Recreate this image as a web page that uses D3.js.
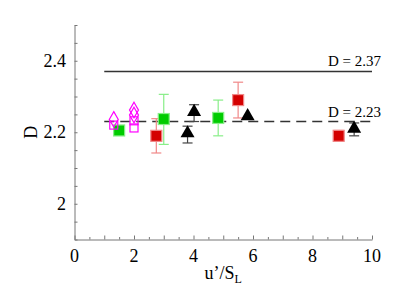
<!DOCTYPE html>
<html>
<head>
<meta charset="utf-8">
<script src="https://cdn.jsdelivr.net/npm/d3@7"></script>
<style>
  body { margin: 0; background: #fff; }
  text { font-family: "Liberation Serif", "Times New Roman", serif; }
</style>
</head>
<body>
<script>
// data
var xTicks = [0, 2, 4, 6, 8, 10]
var yTicks = [2, 2.2, 2.4]

var redX = [2.75, 5.5, 8.88]
var redY = [2.19, 2.29, 2.19]
var redLo = [2.142, 2.24, 2.175]
var redHi = [2.238, 2.34, 2.205]

var greenX = [1.5, 3.0, 4.83]
var greenY = [2.205, 2.237, 2.24]
var greenLo = [null, 2.166, 2.19]
var greenHi = [null, 2.306, 2.29]

var triX = [3.8, 4.02, 5.82, 9.4]
var triY = [2.197, 2.257, 2.245, 2.21]
var triLo = [2.17, 2.23, null, 2.19]
var triHi = [2.217, 2.277, null, 2.226]

var magSqX = [1.32, 2.0, 2.0]
var magSqY = [2.22, 2.212, 2.232]
var magDiX = [1.32, 2.0, 2.0]
var magDiY = [2.236, 2.248, 2.262]

var refLines = [
  {label: "D = 2.37", value: 2.37, x0: 1, x1: 10, dash: null},
  {label: "D = 2.23", value: 2.23, x0: 1, x1: 10, dash: "10,6"}
]

var W = 399, H = 286
var svg = d3.select("body").append("svg")
  .attr("width", W)
  .attr("height", H)

var x = d3.scaleLinear().domain([0, 10]).range([74.5, 372])
var y = d3.scaleLinear().domain([1.9, 2.5]).range([239.5, 25])

// axes (ticks point inward)
var axisCol = "#777"
var gx = svg.append("g").attr("transform", "translate(0," + y(1.9) + ")")
gx.call(d3.axisBottom(x).tickValues(d3.range(0, 10.01, 0.5)).tickSizeInner(-3).tickSizeOuter(0).tickFormat(""))
gx.selectAll(".tick line").attr("y2", function(d) { return Math.abs(d % 1) < 1e-6 ? -4 : -2.5 })
gx.selectAll("line, path").attr("stroke", axisCol)
xTicks.forEach(function(t) {
  svg.append("text")
    .attr("x", x(t)).attr("y", 262)
    .attr("text-anchor", "middle")
    .style("font-size", "18px")
    .text(t)
})

var gy = svg.append("g").attr("transform", "translate(" + x(0) + ",0)")
gy.call(d3.axisLeft(y).tickValues(d3.range(1.9, 2.501, 0.05)).tickSizeInner(-3).tickSizeOuter(0).tickFormat(""))
gy.selectAll("line, path").attr("stroke", axisCol)
yTicks.forEach(function(t) {
  svg.append("text")
    .attr("x", 66).attr("y", y(t) + 6)
    .attr("text-anchor", "end")
    .style("font-size", "18px")
    .text(t)
})

// axis labels
svg.append("g")
  .attr("transform", "translate(37," + y(2.2) + ")")
  .append("text")
  .attr("transform", "rotate(-90)")
  .attr("text-anchor", "middle")
  .style("font-size", "18px")
  .text("D")

var xl = svg.append("text")
  .attr("x", x(5)).attr("y", 279)
  .attr("text-anchor", "middle")
  .style("font-size", "18px")
xl.append("tspan").text("u\u2019/S")
xl.append("tspan").attr("dy", 4).style("font-size", "12px").text("L")

// reference lines
refLines.forEach(function(r) {
  svg.append("line")
    .attr("x1", x(r.x0)).attr("x2", x(r.x1))
    .attr("y1", y(r.value)).attr("y2", y(r.value))
    .attr("stroke", "#333")
    .attr("stroke-width", 1.6)
    .attr("stroke-dasharray", r.dash)
  svg.append("text")
    .attr("x", 381).attr("y", y(r.value) - 5)
    .attr("text-anchor", "end")
    .style("font-size", "15px")
    .text(r.label)
})

// error bars
function errBars(xs, lo, hi, col) {
  xs.forEach(function(xv, i) {
    if (lo[i] == null) return
    var g = svg.append("g").attr("stroke", col).attr("stroke-width", 1.2)
    g.append("line").attr("x1", x(xv)).attr("x2", x(xv)).attr("y1", y(lo[i])).attr("y2", y(hi[i]))
    g.append("line").attr("x1", x(xv) - 5).attr("x2", x(xv) + 5).attr("y1", y(lo[i])).attr("y2", y(lo[i]))
    g.append("line").attr("x1", x(xv) - 5).attr("x2", x(xv) + 5).attr("y1", y(hi[i])).attr("y2", y(hi[i]))
  })
}
errBars(redX, redLo, redHi, "#f08888")
errBars(greenX, greenLo, greenHi, "#88ee88")
errBars(triX, triLo, triHi, "#444")

// markers
function squares(xs, ys, size, fill, stroke) {
  svg.selectAll(null)
    .data(xs.map(function(d, i) { return [d, ys[i]] }))
    .enter().append("rect")
    .attr("x", function(d) { return x(d[0]) - size / 2 })
    .attr("y", function(d) { return y(d[1]) - size / 2 })
    .attr("width", size).attr("height", size)
    .attr("fill", fill)
    .attr("stroke", stroke)
    .attr("stroke-width", 1.2)
}
squares(redX, redY, 11, "#d40000", "#f08888")
squares(greenX, greenY, 11, "#00cc00", "#88ee88")

svg.selectAll(null)
  .data(triX.map(function(d, i) { return [d, triY[i]] }))
  .enter().append("path")
  .attr("transform", function(d) { return "translate(" + x(d[0]) + "," + y(d[1]) + ")" })
  .attr("d", d3.symbol().type(d3.symbolTriangle).size(85))
  .attr("fill", "#000")

squares(magSqX, magSqY, 8, "none", "#ff00ff")
svg.selectAll(null)
  .data(magDiX.map(function(d, i) { return [d, magDiY[i]] }))
  .enter().append("path")
  .attr("transform", function(d) { return "translate(" + x(d[0]) + "," + y(d[1]) + ")" })
  .attr("d", d3.symbol().type(d3.symbolDiamond).size(70))
  .attr("fill", "none")
  .attr("stroke", "#ff00ff")
  .attr("stroke-width", 1.2)
</script>
</body>
</html>
